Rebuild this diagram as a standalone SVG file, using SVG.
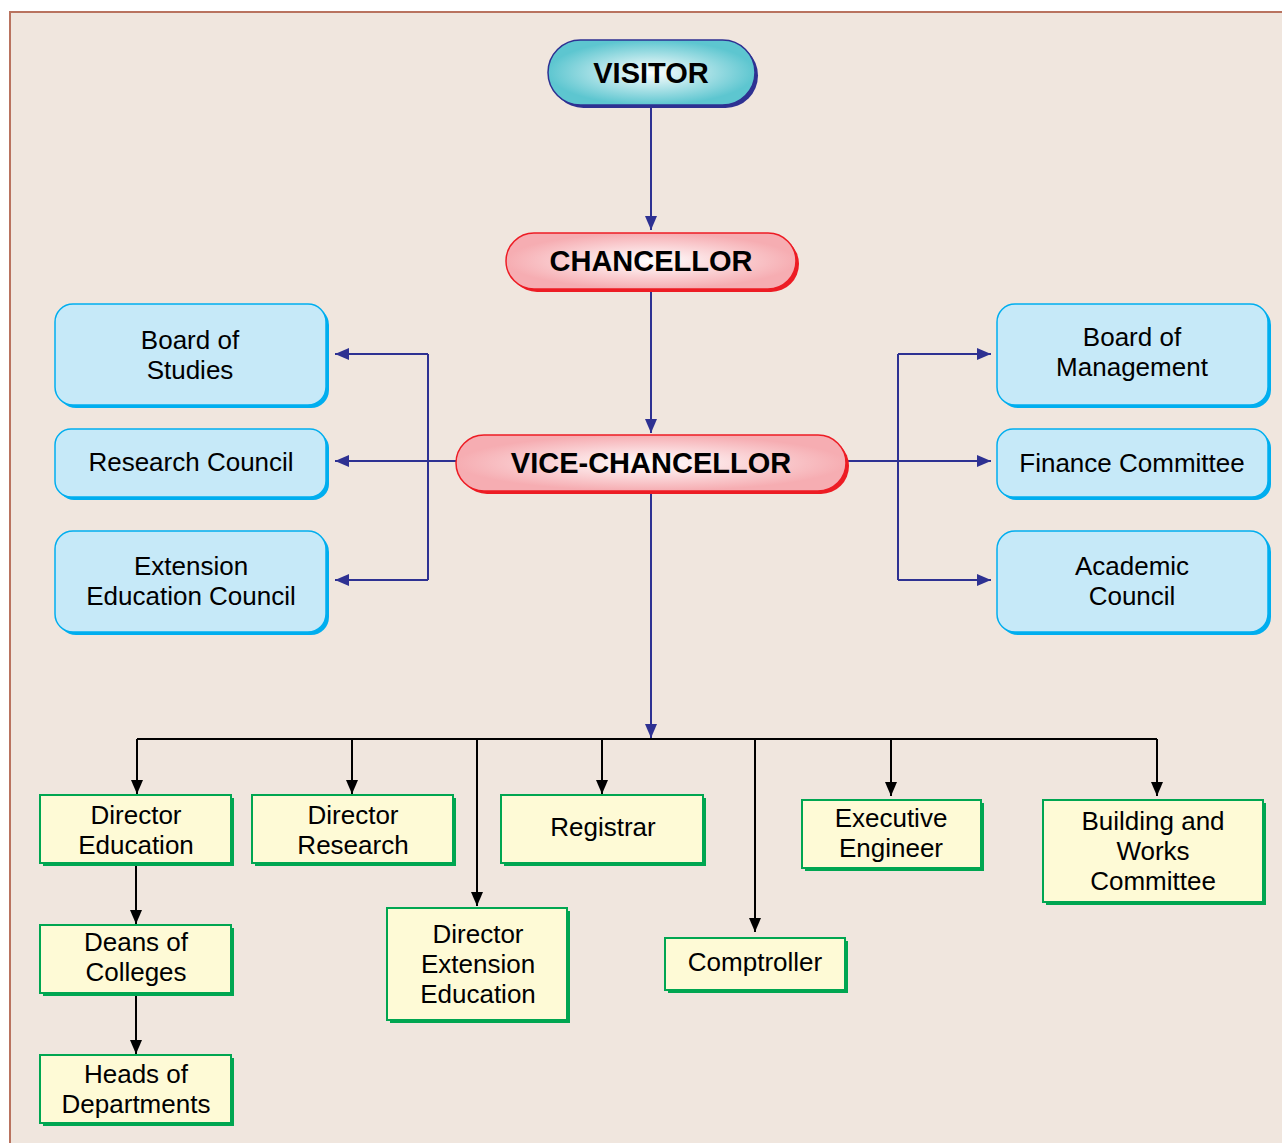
<svg xmlns="http://www.w3.org/2000/svg" width="1282" height="1143" viewBox="0 0 1282 1143">
<style>
.bg{fill:#f0e6de;stroke:#b9735f;stroke-width:2}
.title{font-family:"Liberation Sans",Arial,sans-serif;font-weight:bold;font-size:29px;fill:#000;text-anchor:middle}
.lbl{font-family:"Liberation Sans",Arial,sans-serif;font-size:26px;fill:#000;text-anchor:middle}
.blue{fill:#c6e9f8;stroke:#00aeef;stroke-width:1.5}
.bluesh{fill:#00aeef}
.green{fill:#fefad6;stroke:#00a651;stroke-width:2}
.greensh{fill:#00a651}
.nav{fill:none;stroke:#2e3192;stroke-width:2}
.blk{fill:none;stroke:#000;stroke-width:2}
</style>
<defs>
<radialGradient id="gCyan" cx="0.5" cy="0.5" r="0.5">
<stop offset="0" stop-color="#ffffff"/>
<stop offset="1" stop-color="#5dc6d0"/>
</radialGradient>
<radialGradient id="gRed" cx="0.5" cy="0.5" r="0.5">
<stop offset="0" stop-color="#ffffff"/>
<stop offset="1" stop-color="#f6adb2"/>
</radialGradient>
<marker id="an" viewBox="0 0 14 12" refX="14" refY="6" markerWidth="14" markerHeight="12" markerUnits="userSpaceOnUse" orient="auto">
<path d="M0,0 L14,6 L0,12 Z" fill="#2e3192"/>
</marker>
<marker id="ab" viewBox="0 0 14 12" refX="14" refY="6" markerWidth="14" markerHeight="12" markerUnits="userSpaceOnUse" orient="auto">
<path d="M0,0 L14,6 L0,12 Z" fill="#000"/>
</marker>
</defs>
<rect class="bg" x="10" y="12" width="1290" height="1150"/>

<g id="connectors">
<path class="nav" d="M651,107 V230" marker-end="url(#an)"/>
<path class="nav" d="M651,291 V433" marker-end="url(#an)"/>
<path class="nav" d="M456,461 H335" marker-end="url(#an)"/>
<path class="nav" d="M428,354 H335" marker-end="url(#an)"/>
<path class="nav" d="M428,580 H335" marker-end="url(#an)"/>
<path class="nav" d="M428,354 V580"/>
<path class="nav" d="M846,461 H991" marker-end="url(#an)"/>
<path class="nav" d="M898,354 H991" marker-end="url(#an)"/>
<path class="nav" d="M898,580 H991" marker-end="url(#an)"/>
<path class="nav" d="M898,354 V580"/>
<path class="nav" d="M651,493 V738" marker-end="url(#an)"/>
<path class="blk" d="M137,739 H1157"/>
<path class="blk" d="M137,739 V794" marker-end="url(#ab)"/>
<path class="blk" d="M352,739 V794" marker-end="url(#ab)"/>
<path class="blk" d="M477,739 V906" marker-end="url(#ab)"/>
<path class="blk" d="M602,739 V794" marker-end="url(#ab)"/>
<path class="blk" d="M755,739 V932" marker-end="url(#ab)"/>
<path class="blk" d="M891,739 V796" marker-end="url(#ab)"/>
<path class="blk" d="M1157,739 V796" marker-end="url(#ab)"/>
<path class="blk" d="M136,865 V924" marker-end="url(#ab)"/>
<path class="blk" d="M136,995 V1054" marker-end="url(#ab)"/>
</g>

<g id="visitor">
<rect x="551" y="43" width="207" height="65" rx="32.5" fill="#2e3192"/>
<rect x="548" y="40" width="207" height="65" rx="32.5" fill="url(#gCyan)" stroke="#2e3192" stroke-width="1.5"/>
<text class="title" x="651" y="83">VISITOR</text>
</g>

<g id="chancellor">
<rect x="509" y="236" width="290" height="56" rx="28" fill="#ed1c24"/>
<rect x="506" y="233" width="290" height="56" rx="28" fill="url(#gRed)" stroke="#ed1c24" stroke-width="1.5"/>
<text class="title" x="651" y="271">CHANCELLOR</text>
</g>

<g id="vice-chancellor">
<rect x="459" y="438" width="390" height="56" rx="28" fill="#ed1c24"/>
<rect x="456" y="435" width="390" height="56" rx="28" fill="url(#gRed)" stroke="#ed1c24" stroke-width="1.5"/>
<text class="title" x="651" y="473">VICE-CHANCELLOR</text>
</g>

<g id="board-of-studies">
<rect class="bluesh" x="58" y="307" width="271" height="101" rx="18"/>
<rect class="blue" x="55" y="304" width="271" height="101" rx="18"/>
<text class="lbl" x="190" y="349">Board of</text>
<text class="lbl" x="190" y="379">Studies</text>
</g>

<g id="research-council">
<rect class="bluesh" x="58" y="432" width="271" height="68" rx="16"/>
<rect class="blue" x="55" y="429" width="271" height="68" rx="16"/>
<text class="lbl" x="191" y="471">Research Council</text>
</g>

<g id="extension-education-council">
<rect class="bluesh" x="58" y="534" width="271" height="101" rx="18"/>
<rect class="blue" x="55" y="531" width="271" height="101" rx="18"/>
<text class="lbl" x="191" y="575">Extension</text>
<text class="lbl" x="191" y="605">Education Council</text>
</g>

<g id="board-of-management">
<rect class="bluesh" x="1000" y="307" width="271" height="101" rx="18"/>
<rect class="blue" x="997" y="304" width="271" height="101" rx="18"/>
<text class="lbl" x="1132" y="346">Board of</text>
<text class="lbl" x="1132" y="376">Management</text>
</g>

<g id="finance-committee">
<rect class="bluesh" x="1000" y="432" width="271" height="68" rx="16"/>
<rect class="blue" x="997" y="429" width="271" height="68" rx="16"/>
<text class="lbl" x="1132" y="472">Finance Committee</text>
</g>

<g id="academic-council">
<rect class="bluesh" x="1000" y="534" width="271" height="101" rx="18"/>
<rect class="blue" x="997" y="531" width="271" height="101" rx="18"/>
<text class="lbl" x="1132" y="575">Academic</text>
<text class="lbl" x="1132" y="605">Council</text>
</g>

<g id="director-education">
<rect class="greensh" x="43" y="798" width="191" height="68"/>
<rect class="green" x="40" y="795" width="191" height="68"/>
<text class="lbl" x="136" y="824">Director</text>
<text class="lbl" x="136" y="854">Education</text>
</g>

<g id="director-research">
<rect class="greensh" x="255" y="798" width="201" height="68"/>
<rect class="green" x="252" y="795" width="201" height="68"/>
<text class="lbl" x="353" y="824">Director</text>
<text class="lbl" x="353" y="854">Research</text>
</g>

<g id="registrar">
<rect class="greensh" x="504" y="798" width="202" height="68"/>
<rect class="green" x="501" y="795" width="202" height="68"/>
<text class="lbl" x="603" y="836">Registrar</text>
</g>

<g id="executive-engineer">
<rect class="greensh" x="805" y="803" width="179" height="68"/>
<rect class="green" x="802" y="800" width="179" height="68"/>
<text class="lbl" x="891" y="827">Executive</text>
<text class="lbl" x="891" y="857">Engineer</text>
</g>

<g id="building-and-works-committee">
<rect class="greensh" x="1046" y="803" width="220" height="102"/>
<rect class="green" x="1043" y="800" width="220" height="102"/>
<text class="lbl" x="1153" y="830">Building and</text>
<text class="lbl" x="1153" y="860">Works</text>
<text class="lbl" x="1153" y="890">Committee</text>
</g>

<g id="deans-of-colleges">
<rect class="greensh" x="43" y="928" width="191" height="68"/>
<rect class="green" x="40" y="925" width="191" height="68"/>
<text class="lbl" x="136" y="951">Deans of</text>
<text class="lbl" x="136" y="981">Colleges</text>
</g>

<g id="heads-of-departments">
<rect class="greensh" x="43" y="1058" width="191" height="68"/>
<rect class="green" x="40" y="1055" width="191" height="68"/>
<text class="lbl" x="136" y="1083">Heads of</text>
<text class="lbl" x="136" y="1113">Departments</text>
</g>

<g id="director-extension-education">
<rect class="greensh" x="390" y="911" width="180" height="112"/>
<rect class="green" x="387" y="908" width="180" height="112"/>
<text class="lbl" x="478" y="943">Director</text>
<text class="lbl" x="478" y="973">Extension</text>
<text class="lbl" x="478" y="1003">Education</text>
</g>

<g id="comptroller">
<rect class="greensh" x="668" y="941" width="180" height="52"/>
<rect class="green" x="665" y="938" width="180" height="52"/>
<text class="lbl" x="755" y="971">Comptroller</text>
</g>
</svg>
